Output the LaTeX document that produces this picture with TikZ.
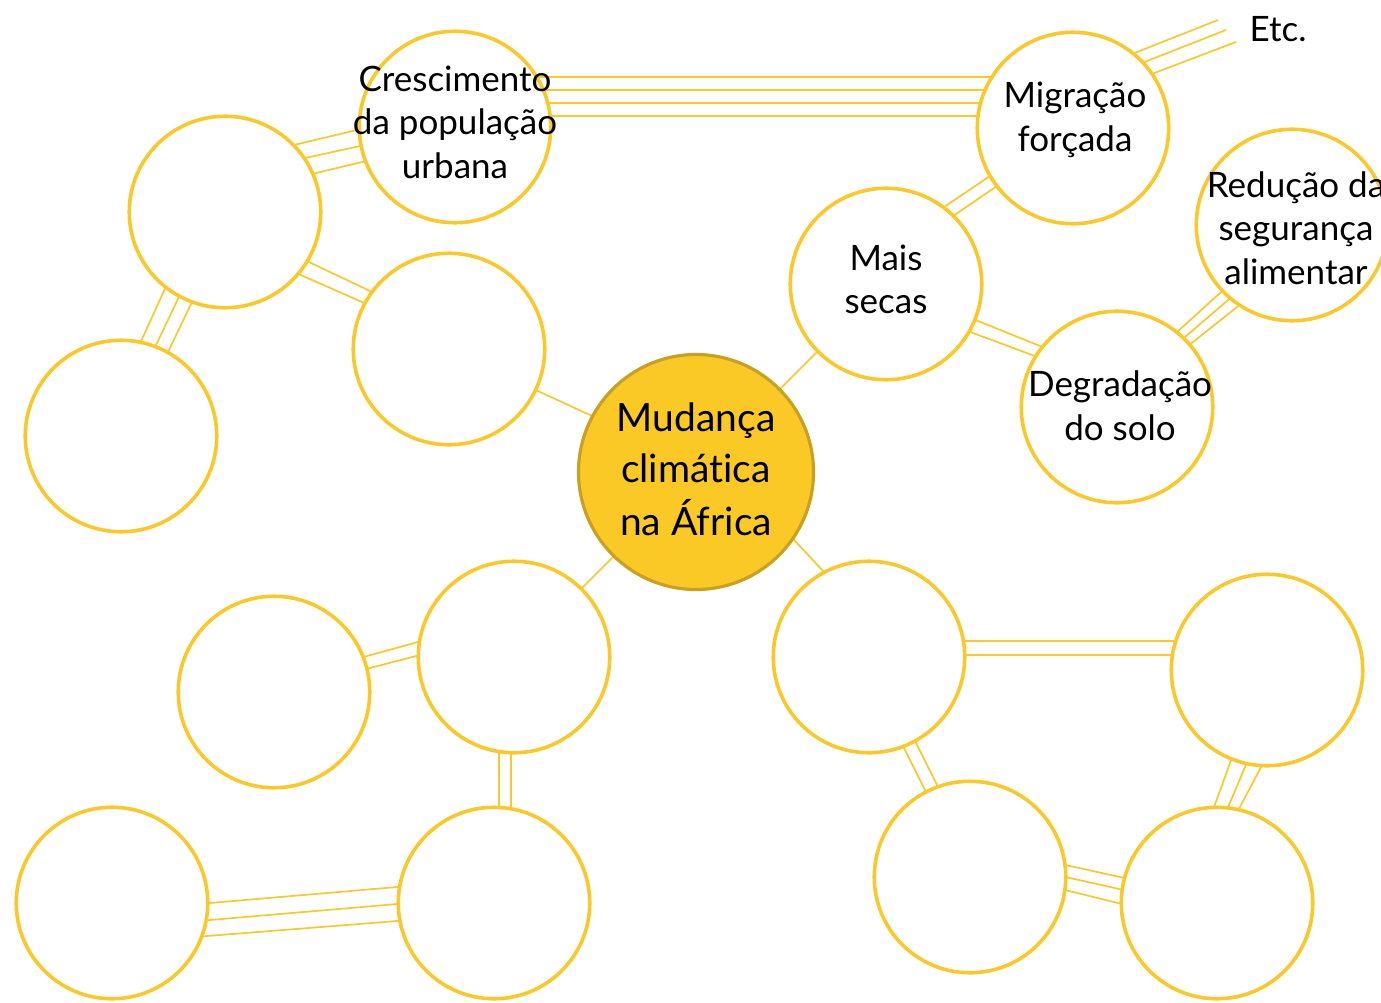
\documentclass[tikz,border=0pt]{standalone}
\usepackage{fontspec}
\setmainfont{Lato}[Ligatures={NoCommon}]
\usetikzlibrary{calc,backgrounds}
\definecolor{ringY}{RGB}{250,200,40}
\definecolor{hubY}{RGB}{250,201,38}
\definecolor{hubD}{RGB}{200,160,34}
\newcommand\tie[4]{%
  \draw[tie] ($([shift={(#2)}]#1.center)!-20pt!([shift={(#4)}]#3.center)$) --
             ($([shift={(#4)}]#3.center)!-20pt!([shift={(#2)}]#1.center)$);}
\newcommand\loose[3]{%
  \draw[tie] ($([shift={(#2)}]#1.center)!-20pt!(#3)$) -- (#3);}
\tikzset{
  ring/.style={circle, draw=ringY, line width=3.6pt, fill=white, minimum size=191.5pt, inner sep=0pt},
  hub/.style={circle, draw=hubD, fill=hubY, line width=3.2pt, minimum size=235pt, inner sep=0pt},
  tie/.style={draw=ringY, line width=1.7pt},
  lbl/.style={align=center, font=\fontsize{35}{43.5}\selectfont, inner sep=0pt},
  hublbl/.style={align=center, font=\fontsize{39}{51.5}\selectfont, inner sep=0pt}
}
\begin{document}
\begin{tikzpicture}[x=1pt,y=-1pt]
\useasboundingbox (0,0) rectangle (1381,1002);
% circles
\node[ring] (cres) at (455,127) {};
\node[ring] (lt) at (225,212) {};
\node[ring] (lm) at (449,349) {};
\node[ring] (lf) at (121,436) {};
\node[hub]  (ctr) at (696,472) {};
\node[ring] (sec) at (886,284) {};
\node[ring] (mig) at (1073,128) {};
\node[ring] (red) at (1292,225) {};
\node[ring] (deg) at (1117,407) {};
\node[ring] (bl1) at (514,657) {};
\node[ring] (bl2) at (274,692) {};
\node[ring] (bl3) at (112,903) {};
\node[ring] (bl4) at (494,903) {};
\node[ring] (br1) at (869,657) {};
\node[ring] (br2) at (1267,670) {};
\node[ring] (br3) at (970,877) {};
\node[ring] (br4) at (1217,903) {};
\coordinate (e1) at (1218,20);
\coordinate (e2) at (1226,30);
\coordinate (e3) at (1236,42);
% texts
\node[lbl] (cres-t) at (455,126) {\strut Crescimento\\\strut da população\\\strut urbana};
\node[lbl] (mig-t) at (1075,121) {\strut Migração\\\strut forçada};
\node[lbl] (red-t) at (1296,232) {\strut Redução da\\\strut segurança\\\strut alimentar};
\node[lbl] (sec-t) at (886,283.5) {\strut Mais\\\strut secas};
\node[lbl] (deg-t) at (1120,410) {\strut Degradação\\\strut do solo};
\node[lbl] (etc-t) at (1278,33) {\strut Etc.};
\node[hublbl] (ctr-t) at (696,473) {\strut Mudança\\\strut climática\\\strut na África};
\begin{pgfonlayer}{background}
% crescimento - migracao
\tie{cres}{85,-50}{mig}{-83,-51}
\tie{cres}{85,-37}{mig}{-83,-38}
\tie{cres}{85,-24}{mig}{-83,-25}
\tie{cres}{85,-11}{mig}{-83,-12}
% migracao - etc
\loose{mig}{64,-76}{e1}
\loose{mig}{74,-67}{e2}
\loose{mig}{84,-56}{e3}
% crescimento - left top
\tie{lt}{73,-68}{cres}{-98,3}
\tie{lt}{85,-55}{cres}{-95,19}
\tie{lt}{91,-39}{cres}{-93,35}
% left top - left far
\tie{lt}{-62,81}{lf}{22,-99}
\tie{lt}{-48,89}{lf}{36,-93}
\tie{lt}{-35,94}{lf}{49,-88}
% left top - left mid
\tie{lt}{86,51}{lm}{-79,-58}
\tie{lt}{78,64}{lm}{-87,-47}
% secas - migracao
\tie{sec}{61,-79}{mig}{-86,50}
\tie{sec}{70,-70}{mig}{-79,60}
% secas - degradacao
\tie{sec}{92,37}{deg}{-77,-61}
\tie{sec}{87,49}{deg}{-85,-52}
% degradacao - reducao
\tie{deg}{60,-75}{red}{-72,68}
\tie{deg}{68,-70}{red}{-64,75}
\tie{deg}{76,-65}{red}{-55,82}
% hub links
\tie{ctr}{87,-86}{sec}{-69,68}
\tie{ctr}{-106,-57}{lm}{91,43}
\tie{ctr}{-84,86}{bl1}{71,-72}
\tie{ctr}{101,71}{br1}{-46,-86}
% bottom left group
\tie{bl2}{93,-36}{bl1}{-96,-15}
\tie{bl2}{96,-24}{bl1}{-94,-2}
\tie{bl1}{-15,96}{bl4}{5,-97}
\tie{bl1}{-3,97}{bl4}{17,-96}
\tie{bl3}{98,0}{bl4}{-97,-16}
\tie{bl3}{98,17}{bl4}{-97,1}
\tie{bl3}{95,33}{bl4}{-97,18}
% bottom right group
\tie{br1}{98,-16}{br2}{-96,-29}
\tie{br1}{98,-2}{br2}{-97,-15}
\tie{br1}{36,93}{br3}{-45,-87}
\tie{br1}{48,88}{br3}{-33,-92}
\tie{br3}{100,-11}{br4}{-97,-26}
\tie{br3}{100,1}{br4}{-98,-14}
\tie{br3}{99,14}{br4}{-99,0}
\tie{br2}{-37,93}{br4}{-4,-93}
\tie{br2}{-22,97}{br4}{12,-98}
\tie{br2}{-7,99}{br4}{25,-100}
\end{pgfonlayer}
\end{tikzpicture}
\end{document}
